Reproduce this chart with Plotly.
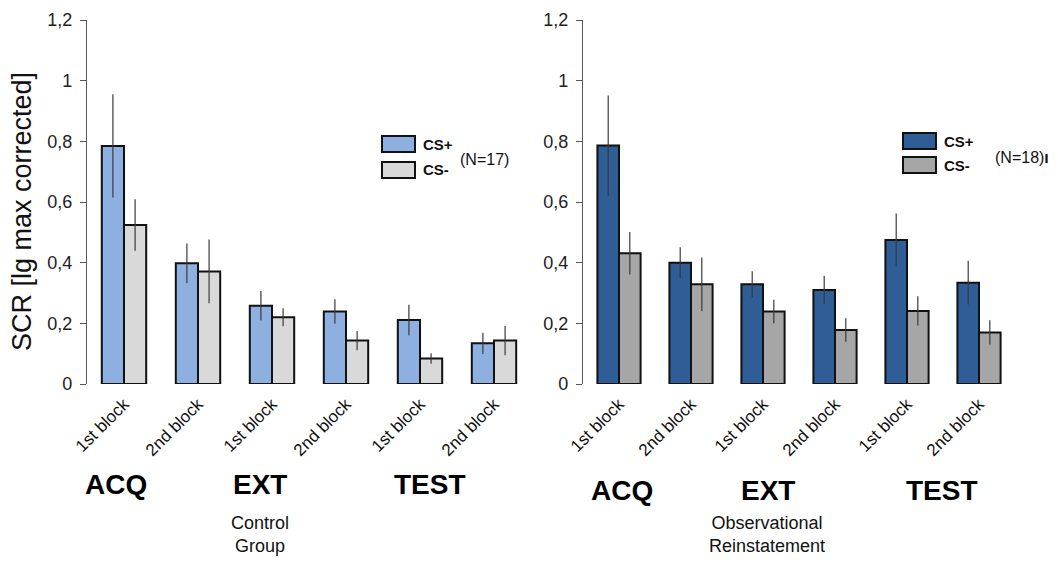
import plotly.graph_objects as go

# Blocks per phase (ACQ / EXT / TEST, two blocks each)
blocks = ["1st block", "2nd block", "1st block", "2nd block", "1st block", "2nd block"]
block_ids = ["ACQ 1", "ACQ 2", "EXT 1", "EXT 2", "TEST 1", "TEST 2"]
phases = ["ACQ", "EXT", "TEST"]

# Control group (N=17): mean SCR and SEM
ctrl_cs_plus = [0.785, 0.398, 0.258, 0.239, 0.211, 0.134]
ctrl_cs_plus_err = [0.170, 0.065, 0.049, 0.040, 0.050, 0.035]
ctrl_cs_minus = [0.524, 0.371, 0.220, 0.143, 0.084, 0.143]
ctrl_cs_minus_err = [0.085, 0.105, 0.030, 0.032, 0.017, 0.048]

# Observational reinstatement group (N=18)
obs_cs_plus = [0.786, 0.400, 0.329, 0.310, 0.475, 0.334]
obs_cs_plus_err = [0.165, 0.051, 0.043, 0.047, 0.087, 0.072]
obs_cs_minus = [0.431, 0.329, 0.239, 0.178, 0.241, 0.170]
obs_cs_minus_err = [0.070, 0.088, 0.039, 0.039, 0.048, 0.040]

y_ticks = [0, 0.2, 0.4, 0.6, 0.8, 1.0, 1.2]

CTRL_PLUS = "#8eb0e0"
CTRL_MINUS = "#d9d9d9"
OBS_PLUS = "#2f5d96"
OBS_MINUS = "#a6a6a6"

W, H = 1058, 563


def px_x(v):
    return v / W


def px_y(v):
    return 1 - v / H


fig = go.Figure()


def add_bars(xaxis, yaxis, values, errs, color):
    fig.add_trace(go.Bar(
        x=block_ids, y=values, xaxis=xaxis, yaxis=yaxis,
        marker=dict(color=color, line=dict(color="#111111", width=2)),
        error_y=dict(type="data", array=errs, visible=True,
                     color="#3a3a3a", thickness=1.2, width=0),
        showlegend=False,
    ))


add_bars("x", "y", ctrl_cs_plus, ctrl_cs_plus_err, CTRL_PLUS)
add_bars("x", "y", ctrl_cs_minus, ctrl_cs_minus_err, CTRL_MINUS)
add_bars("x2", "y2", obs_cs_plus, obs_cs_plus_err, OBS_PLUS)
add_bars("x2", "y2", obs_cs_minus, obs_cs_minus_err, OBS_MINUS)

tick_font = dict(family="Liberation Sans, Arial, sans-serif", size=18, color="#222222")
cat_font = dict(family="Liberation Sans, Arial, sans-serif", size=17, color="#111111")

xaxis_common = dict(
    type="category", categoryorder="array", categoryarray=block_ids,
    tickmode="array", tickvals=block_ids, ticktext=blocks,
    tickangle=-45, tickfont=cat_font, showline=False, showgrid=False,
    zeroline=False, ticks="", range=[-0.5, 5.5], automargin=False,
    ticklabelstandoff=6,
)
yaxis_common = dict(
    range=[0, 1.2], tickvals=y_ticks, tickfont=tick_font,
    showline=True, linecolor="#555555", linewidth=1.2,
    ticks="outside", ticklen=6, tickcolor="#555555", tickwidth=1,
    showgrid=False, zeroline=False, automargin=False,
    domain=[px_y(384), px_y(20)], ticklabelstandoff=4,
)

fig.update_layout(
    width=W, height=H,
    margin=dict(l=0, r=0, t=0, b=0),
    paper_bgcolor="white", plot_bgcolor="white",
    separators=",.",
    barmode="group", bargap=0.40, bargroupgap=0,
    xaxis=dict(domain=[px_x(87), px_x(531)], anchor="y", **xaxis_common),
    yaxis=dict(anchor="x", **yaxis_common),
    xaxis2=dict(domain=[px_x(583), px_x(1015)], anchor="y2", **xaxis_common),
    yaxis2=dict(anchor="x2", **yaxis_common),
    font=dict(family="Liberation Sans, Arial, sans-serif"),
)

annotations = []
shapes = []

# y-axis title
annotations.append(dict(
    text="SCR [lg max corrected]", x=px_x(22), y=px_y(212), xref="paper", yref="paper",
    textangle=-90, showarrow=False, xanchor="center", yanchor="middle",
    font=dict(family="Liberation Sans, Arial, sans-serif", size=27, color="#111111"),
))

# phase labels below each panel
phase_x = {"left": [116, 260, 430], "right": [622, 768, 942]}
phase_y = {"left": 484, "right": 490}
for side in ("left", "right"):
    for name, xp in zip(phases, phase_x[side]):
        annotations.append(dict(
            text="<b>%s</b>" % name, x=px_x(xp), y=px_y(phase_y[side]),
            xref="paper", yref="paper", showarrow=False,
            xanchor="center", yanchor="middle",
            font=dict(family="Liberation Sans, Arial, sans-serif", size=28, color="#000000"),
        ))

# group names
for text, xp in (("Control<br>Group", 260), ("Observational<br>Reinstatement", 767)):
    annotations.append(dict(
        text=text, x=px_x(xp), y=px_y(534), xref="paper", yref="paper",
        showarrow=False, xanchor="center", yanchor="middle",
        font=dict(family="Liberation Sans Narrow, Liberation Sans, Arial, sans-serif",
                  size=18, color="#111111"),
    ))

# legend swatches and labels
legend_specs = [
    (382, [(136, CTRL_PLUS, "CS+"), (162, CTRL_MINUS, "CS-")], "(N=17)", 484, 159),
    (903, [(133, OBS_PLUS, "CS+"), (157, OBS_MINUS, "CS-")], "(N=18)<b>ı</b>", 1022, 157),
]
for x0, rows, ntext, nx, ny in legend_specs:
    for top, color, label in rows:
        shapes.append(dict(
            type="rect", xref="paper", yref="paper",
            x0=px_x(x0), x1=px_x(x0 + 33), y0=px_y(top + 16), y1=px_y(top),
            fillcolor=color, line=dict(color="#111111", width=2),
        ))
        annotations.append(dict(
            text="<b>%s</b>" % label, x=px_x(x0 + 39), y=px_y(top + 8),
            xref="paper", yref="paper", showarrow=False,
            xanchor="left", yanchor="middle",
            font=dict(family="Liberation Sans, Arial, sans-serif", size=15, color="#111111"),
        ))
    annotations.append(dict(
        text=ntext, x=px_x(nx), y=px_y(ny), xref="paper", yref="paper",
        showarrow=False, xanchor="center", yanchor="middle",
        font=dict(family="Liberation Sans, Arial, sans-serif", size=16, color="#111111"),
    ))

fig.update_layout(annotations=annotations, shapes=shapes)

fig.write_html("out.html")
